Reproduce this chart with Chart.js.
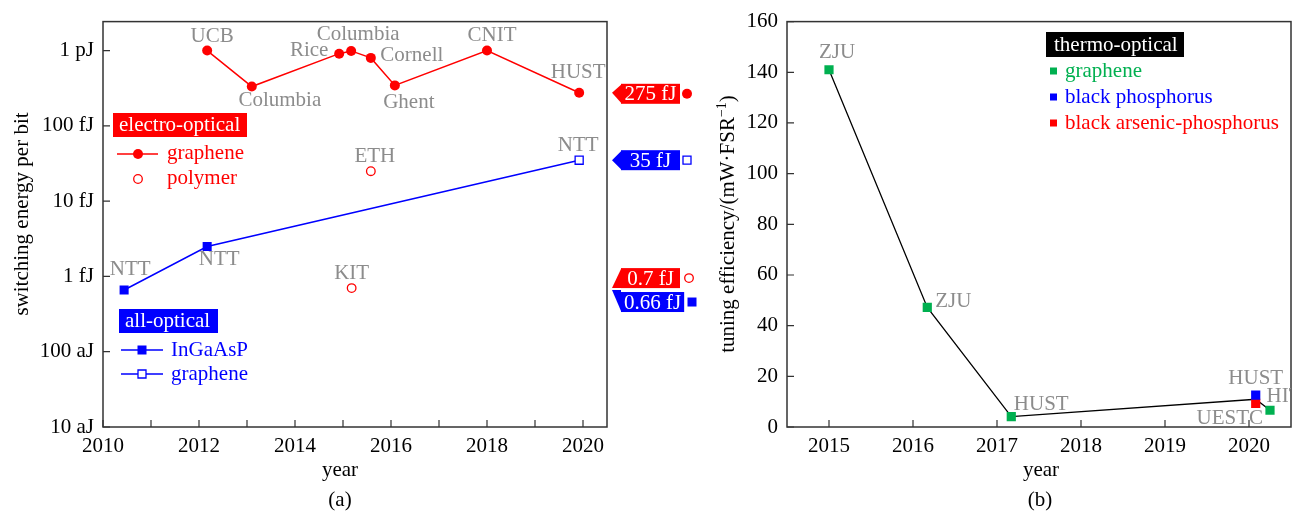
<!DOCTYPE html>
<html>
<head>
<meta charset="utf-8">
<script src="https://cdn.jsdelivr.net/npm/chart.js@4.4.6/dist/chart.umd.min.js"></script>
<style>
  html, body { margin: 0; padding: 0; background: #fff; }
  #wrap { position: relative; width: 1298px; height: 512px; overflow: hidden; }
  canvas { position: absolute; top: 0; }
  #energyChart { left: 0; }
  #tuningChart { left: 700px; }
</style>
</head>
<body>
<div id="wrap">
  <canvas id="energyChart" width="700" height="512"></canvas>
  <canvas id="tuningChart" width="598" height="512"></canvas>
</div>
<script>
// ---- (a) switching energy per bit, values in fJ ----
const eoGrapheneYears = [2012.17, 2013.1, 2014.92, 2015.17, 2015.58, 2016.08, 2018.0, 2019.92];
const eoGrapheneEnergy = [1000, 333, 910, 990, 800, 345, 1000, 275];
const eoGrapheneLabels = ['UCB', 'Columbia', 'Rice', 'Columbia', 'Cornell', 'Ghent', 'CNIT', 'HUST'];

const eoPolymerYears = [2015.58, 2015.18];
const eoPolymerEnergy = [25, 0.7];
const eoPolymerLabels = ['ETH', 'KIT'];

const aoInGaAsPYears = [2010.44, 2012.17];
const aoInGaAsPEnergy = [0.66, 2.5];
const aoInGaAsPLabels = ['NTT', 'NTT'];

const aoGrapheneYears = [2019.92];
const aoGrapheneEnergy = [35];
const aoGrapheneLabels = ['NTT'];

const energyTicks = [0.01, 0.1, 1, 10, 100, 1000];
const energyTickLabels = ['10 aJ', '100 aJ', '1 fJ', '10 fJ', '100 fJ', '1 pJ'];
const yearTicksA = [2010, 2011, 2012, 2013, 2014, 2015, 2016, 2017, 2018, 2019, 2020];

const bestValues = [275, 35, 0.7, 0.66];
const bestTexts = ['275 fJ', '35 fJ', '0.7 fJ', '0.66 fJ'];

// ---- (b) tuning efficiency, mW per FSR ----
const toGrapheneYears = [2015.0, 2016.17, 2017.17, 2020.25];
const toGrapheneEff = [141, 47.2, 4.1, 6.6];
const toGrapheneLabels = ['ZJU', 'ZJU', 'HUST', 'HIT'];

const toBPYears = [2020.08];
const toBPEff = [12.6];
const toBPLabels = ['HUST'];

const toBAPYears = [2020.08];
const toBAPEff = [9.3];
const toBAPLabels = ['UESTC'];

const tuningTicks = [0, 20, 40, 60, 80, 100, 120, 140, 160];
const yearTicksB = [2015, 2016, 2017, 2018, 2019, 2020];

// ---- look ----
const SERIF = "'Liberation Serif', 'Times New Roman', serif";
const RED = '#ff0000';
const BLUE = '#0000ff';
const GREEN = '#00b050';
const GRAY = '#8c8c8c';
const AXIS = '#333333';

Chart.defaults.font.family = SERIF;
Chart.defaults.font.size = 21;
Chart.defaults.color = '#000';

// label offsets from the point, in px
const eoGrapheneNamePos = [[5, -14], [28, 14], [-30, -3], [7, -16], [41, -2], [14, 17], [5, -15], [-1, -20]];
const eoPolymerNamePos = [[4, -15], [0, -15]];
const aoInGaAsPNamePos = [[6, -21], [12, 13]];
const aoGrapheneNamePos = [[-1, -15]];
const toGrapheneNamePos = [[8, -17], [26, -6], [30, -12], [14, -14]];
const toBPNamePos = [[0, -17]];
const toBAPNamePos = [[-26, 15]];

const tagShift = [1, 0, -10, 12];
const tagColors = [RED, BLUE, RED, BLUE];
const tagMarks = ['dot', 'box', 'ring', 'square'];
const tagMarkX = [687, 684, 689, 692];

const pts = (xs, ys) => xs.map((x, i) => ({ x, y: ys[i] }));

function drawMark(ctx, kind, x, y, color) {
  ctx.save();
  ctx.fillStyle = color;
  ctx.strokeStyle = color;
  ctx.lineWidth = 1.3;
  ctx.beginPath();
  if (kind === 'dot') { ctx.arc(x, y, 5, 0, Math.PI * 2); ctx.fill(); }
  else if (kind === 'ring') { ctx.fillStyle = '#fff'; ctx.arc(x, y, 4.3, 0, Math.PI * 2); ctx.fill(); ctx.stroke(); }
  else if (kind === 'square') { ctx.fillRect(x - 4.5, y - 4.5, 9, 9); }
  else if (kind === 'box') { ctx.fillStyle = '#fff'; ctx.rect(x - 4, y - 4, 8, 8); ctx.fill(); ctx.stroke(); }
  else if (kind === 'small') { ctx.fillRect(x - 3.5, y - 3.5, 7, 7); }
  ctx.restore();
}

const frameTicks = {
  id: 'frameTicks',
  afterDatasetsDraw(chart) {
    const { ctx, chartArea: a, scales } = chart;
    ctx.save();
    ctx.strokeStyle = AXIS;
    ctx.lineWidth = 1.5;
    ctx.strokeRect(a.left, a.top, a.right - a.left, a.bottom - a.top);
    ctx.lineWidth = 1.2;
    ctx.beginPath();
    scales.x.ticks.forEach(t => {
      const px = scales.x.getPixelForValue(t.value);
      ctx.moveTo(px, a.bottom);
      ctx.lineTo(px, a.bottom - 7);
    });
    scales.y.ticks.forEach(t => {
      const py = scales.y.getPixelForValue(t.value);
      ctx.moveTo(a.left, py);
      ctx.lineTo(a.left + 7, py);
    });
    ctx.stroke();
    ctx.restore();
  }
};

const pointNames = {
  id: 'pointNames',
  afterDatasetsDraw(chart, args, opts) {
    const { ctx, chartArea: a } = chart;
    ctx.save();
    if (opts.clip) {
      ctx.beginPath();
      ctx.rect(a.left, a.top, a.right - a.left, a.bottom - a.top);
      ctx.clip();
    }
    ctx.font = `21px ${SERIF}`;
    ctx.fillStyle = GRAY;
    ctx.textAlign = 'center';
    ctx.textBaseline = 'middle';
    chart.data.datasets.forEach((ds, i) => {
      if (!ds.names) return;
      chart.getDatasetMeta(i).data.forEach((el, j) => {
        const [dx, dy] = ds.namePos[j];
        ctx.fillText(ds.names[j], el.x + dx, el.y + dy);
      });
    });
    ctx.restore();
  }
};

function labelBox(ctx, text, x0, x1, yc, bg) {
  ctx.fillStyle = bg;
  ctx.fillRect(x0, yc - 12, x1 - x0, 24);
  ctx.fillStyle = '#fff';
  ctx.textAlign = 'left';
  ctx.fillText(text, x0 + 6, yc);
}

const energyExtras = {
  id: 'energyExtras',
  afterDraw(chart) {
    const { ctx, scales } = chart;
    ctx.save();
    ctx.font = `21px ${SERIF}`;
    ctx.textBaseline = 'middle';

    // legend: electro-optical
    labelBox(ctx, 'electro-optical', 113, 247, 125, RED);
    ctx.strokeStyle = RED; ctx.lineWidth = 1.5;
    ctx.beginPath(); ctx.moveTo(117, 154); ctx.lineTo(158, 154); ctx.stroke();
    drawMark(ctx, 'dot', 138, 154, RED);
    drawMark(ctx, 'ring', 138, 179, RED);
    ctx.fillStyle = RED; ctx.textAlign = 'left';
    ctx.fillText('graphene', 167, 153);
    ctx.fillText('polymer', 167, 178);

    // legend: all-optical
    labelBox(ctx, 'all-optical', 119, 218, 321, BLUE);
    ctx.strokeStyle = BLUE; ctx.lineWidth = 1.5;
    ctx.beginPath();
    ctx.moveTo(121, 350); ctx.lineTo(163, 350);
    ctx.moveTo(121, 374); ctx.lineTo(163, 374);
    ctx.stroke();
    drawMark(ctx, 'square', 142, 350, BLUE);
    drawMark(ctx, 'box', 142, 374, BLUE);
    ctx.fillStyle = BLUE; ctx.textAlign = 'left';
    ctx.fillText('InGaAsP', 171, 350);
    ctx.fillText('graphene', 171, 374);

    // best-value tags right of the plot
    bestValues.forEach((v, i) => {
      const yv = scales.y.getPixelForValue(v);
      const yb = yv + tagShift[i];
      const tw = ctx.measureText(bestTexts[i]).width;
      const w = Math.max(59, tw + 6);
      ctx.fillStyle = tagColors[i];
      ctx.beginPath();
      ctx.moveTo(612, yv);
      ctx.lineTo(621, Math.min(yv, yb - 9));
      ctx.lineTo(621, Math.max(yv, yb + 9));
      ctx.closePath();
      ctx.fill();
      ctx.fillRect(621, yb - 10, w, 20);
      ctx.fillStyle = '#fff';
      ctx.textAlign = 'center';
      ctx.fillText(bestTexts[i], 621 + w / 2, yb + 1);
      drawMark(ctx, tagMarks[i], Math.max(tagMarkX[i], 621 + w + 7), yb, tagColors[i]);
    });

    // axis titles
    ctx.fillStyle = '#000';
    ctx.textAlign = 'center';
    ctx.fillText('year', 340, 470);
    ctx.fillText('(a)', 340, 500);
    ctx.translate(22, 214);
    ctx.rotate(-Math.PI / 2);
    ctx.fillText('switching energy per bit', 0, 0);
    ctx.restore();
  }
};

const tuningExtras = {
  id: 'tuningExtras',
  afterDraw(chart) {
    const { ctx } = chart;
    ctx.save();
    ctx.font = `21px ${SERIF}`;
    ctx.textBaseline = 'middle';

    // legend
    ctx.fillStyle = '#000';
    ctx.fillRect(346, 32, 138, 25);
    ctx.fillStyle = '#fff';
    ctx.textAlign = 'left';
    ctx.fillText('thermo-optical', 354, 45);
    [['graphene', GREEN, 71], ['black phosphorus', BLUE, 97], ['black arsenic-phosphorus', RED, 123]].forEach(([t, c, y]) => {
      drawMark(ctx, 'small', 353.5, y, c);
      ctx.fillStyle = c;
      ctx.fillText(t, 365, y);
    });

    // axis titles
    ctx.fillStyle = '#000';
    ctx.textAlign = 'center';
    ctx.fillText('year', 341, 470);
    ctx.fillText('(b)', 340, 500);

    ctx.translate(27, 224);
    ctx.rotate(-Math.PI / 2);
    ctx.textBaseline = 'alphabetic';
    ctx.textAlign = 'left';
    const main = 'tuning efficiency/(mW\u00b7FSR';
    const sup = '\u22121';
    const w1 = ctx.measureText(main).width;
    const w3 = ctx.measureText(')').width;
    ctx.font = `14px ${SERIF}`;
    const w2 = ctx.measureText(sup).width;
    const x0 = -(w1 + w2 + w3) / 2;
    ctx.fillText(sup, x0 + w1, -1);
    ctx.font = `21px ${SERIF}`;
    ctx.fillText(main, x0, 7);
    ctx.fillText(')', x0 + w1 + w2, 7);
    ctx.restore();
  }
};

new Chart(document.getElementById('energyChart'), {
  type: 'scatter',
  data: {
    datasets: [
      {
        data: pts(eoGrapheneYears, eoGrapheneEnergy),
        showLine: true, borderColor: RED, backgroundColor: RED, borderWidth: 1.5,
        pointStyle: 'circle', pointRadius: 5, pointBorderWidth: 0,
        names: eoGrapheneLabels, namePos: eoGrapheneNamePos
      },
      {
        data: pts(eoPolymerYears, eoPolymerEnergy),
        borderColor: RED, backgroundColor: '#fff',
        pointStyle: 'circle', pointRadius: 4.3, pointBorderWidth: 1.3,
        names: eoPolymerLabels, namePos: eoPolymerNamePos
      },
      {
        data: pts(aoInGaAsPYears, aoInGaAsPEnergy),
        borderColor: BLUE, backgroundColor: BLUE,
        pointStyle: 'rect', pointRadius: 6.4, pointBorderWidth: 0,
        names: aoInGaAsPLabels, namePos: aoInGaAsPNamePos
      },
      {
        data: pts(aoGrapheneYears, aoGrapheneEnergy),
        borderColor: BLUE, backgroundColor: '#fff',
        pointStyle: 'rect', pointRadius: 5.7, pointBorderWidth: 1.3,
        names: aoGrapheneLabels, namePos: aoGrapheneNamePos
      },
      {
        data: pts(aoInGaAsPYears.concat(aoGrapheneYears), aoInGaAsPEnergy.concat(aoGrapheneEnergy)),
        showLine: true, borderColor: BLUE, borderWidth: 1.5, pointRadius: 0
      }
    ]
  },
  options: {
    responsive: false,
    animation: false,
    devicePixelRatio: 1,
    events: [],
    layout: { padding: { left: 0, right: 93, top: 21, bottom: 0 } },
    plugins: { legend: { display: false }, tooltip: { enabled: false }, pointNames: { clip: false } },
    scales: {
      x: {
        type: 'linear', min: 2010, max: 2020.5,
        afterBuildTicks: s => { s.ticks = yearTicksA.map(v => ({ value: v })); },
        afterFit: s => { s.height = 85; },
        grid: { display: false, drawTicks: false },
        border: { display: false },
        ticks: { autoSkip: false, maxRotation: 0, padding: 7, callback: v => (v % 2 === 0 ? String(v) : '') }
      },
      y: {
        type: 'logarithmic', min: 0.01, max: 2427,
        afterBuildTicks: s => { s.ticks = energyTicks.map(v => ({ value: v })); },
        afterFit: s => { s.width = 103; },
        grid: { display: false, drawTicks: false },
        border: { display: false },
        ticks: { padding: 9, callback: v => energyTickLabels[energyTicks.indexOf(v)] ?? '' }
      }
    }
  },
  plugins: [frameTicks, pointNames, energyExtras]
});

const trendPoints = [
  ...pts(toGrapheneYears.slice(0, 3), toGrapheneEff.slice(0, 3)),
  { x: toBPYears[0], y: (toBPEff[0] + toBAPEff[0]) / 2 },
  ...pts(toGrapheneYears.slice(3), toGrapheneEff.slice(3))
];

new Chart(document.getElementById('tuningChart'), {
  type: 'scatter',
  data: {
    datasets: [
      {
        data: pts(toBPYears, toBPEff),
        backgroundColor: BLUE, borderColor: BLUE,
        pointStyle: 'rect', pointRadius: 6.5, pointBorderWidth: 0,
        names: toBPLabels, namePos: toBPNamePos
      },
      {
        data: pts(toBAPYears, toBAPEff),
        backgroundColor: RED, borderColor: RED,
        pointStyle: 'rect', pointRadius: 6.5, pointBorderWidth: 0,
        names: toBAPLabels, namePos: toBAPNamePos
      },
      {
        data: pts(toGrapheneYears, toGrapheneEff),
        backgroundColor: GREEN, borderColor: GREEN,
        pointStyle: 'rect', pointRadius: 6.5, pointBorderWidth: 0,
        names: toGrapheneLabels, namePos: toGrapheneNamePos
      },
      {
        data: trendPoints,
        showLine: true, borderColor: '#000', borderWidth: 1.3, pointRadius: 0
      }
    ]
  },
  options: {
    responsive: false,
    animation: false,
    devicePixelRatio: 1,
    events: [],
    layout: { padding: { left: 0, right: 7, top: 21, bottom: 0 } },
    plugins: { legend: { display: false }, tooltip: { enabled: false }, pointNames: { clip: true } },
    scales: {
      x: {
        type: 'linear', min: 2014.5, max: 2020.5,
        afterBuildTicks: s => { s.ticks = yearTicksB.map(v => ({ value: v })); },
        afterFit: s => { s.height = 85; },
        grid: { display: false, drawTicks: false },
        border: { display: false },
        ticks: { autoSkip: false, maxRotation: 0, padding: 7, callback: v => String(v) }
      },
      y: {
        type: 'linear', min: 0, max: 160,
        afterBuildTicks: s => { s.ticks = tuningTicks.map(v => ({ value: v })); },
        afterFit: s => { s.width = 87; },
        grid: { display: false, drawTicks: false },
        border: { display: false },
        ticks: { padding: 9, callback: v => String(v) }
      }
    }
  },
  plugins: [frameTicks, pointNames, tuningExtras]
});
</script>
</body>
</html>
